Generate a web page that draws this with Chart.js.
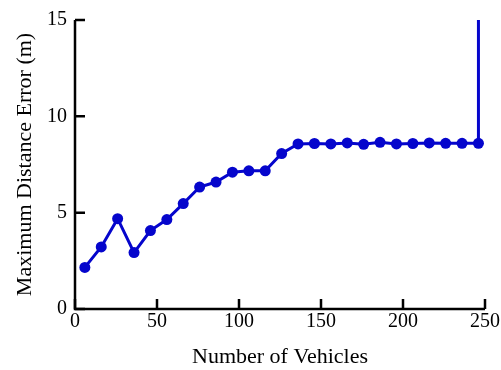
<!DOCTYPE html>
<html>
<head>
<meta charset="utf-8">
<script src="https://cdn.jsdelivr.net/npm/chart.js@4/dist/chart.umd.min.js"></script>
<style>
  html, body { margin: 0; padding: 0; background: #fff; }
  #wrap { width: 501px; height: 370px; }
</style>
</head>
<body>
<div id="wrap"><canvas id="c" width="501" height="370"></canvas></div>
<script>
// Number of vehicles in each run
const vehicles = [6, 16, 26, 36, 46, 56, 66, 76, 86, 96, 106, 116, 126,
                  136, 146, 156, 166, 176, 186, 196, 206, 216, 226, 236, 246, 246];
// Maximum distance error (m) per run; the last entry is the escape past the top of the axis
const maxError = [2.16, 3.22, 4.69, 2.93, 4.07, 4.64, 5.47, 6.33, 6.59, 7.10, 7.17, 7.17, 8.07,
                  8.57, 8.59, 8.57, 8.62, 8.55, 8.65, 8.57, 8.59, 8.62, 8.60, 8.60, 8.60, 15];
const xTicks = [0, 50, 100, 150, 200, 250];
const yTicks = [0, 5, 10, 15];

const FONT = "'Liberation Serif', 'Times New Roman', serif";

// Inward-pointing tick marks plus the left and bottom axis lines
const inwardTicks = {
  id: 'inwardTicks',
  afterDatasetsDraw(chart) {
    const { ctx, chartArea: a, scales: { x, y } } = chart;
    ctx.save();
    ctx.strokeStyle = '#000';
    ctx.lineWidth = 2.5;
    ctx.beginPath();
    xTicks.forEach(v => {
      const px = x.getPixelForValue(v);
      ctx.moveTo(px, a.bottom);
      ctx.lineTo(px, a.bottom - 10);
    });
    yTicks.forEach(v => {
      const py = y.getPixelForValue(v);
      ctx.moveTo(a.left, py);
      ctx.lineTo(a.left + 10, py);
    });
    ctx.stroke();
    ctx.beginPath();
    ctx.moveTo(a.left, a.top);
    ctx.lineTo(a.left, a.bottom);
    ctx.lineTo(a.right, a.bottom);
    ctx.stroke();
    ctx.restore();
  }
};

new Chart(document.getElementById('c'), {
  type: 'line',
  data: {
    datasets: [{
      data: vehicles.map((v, i) => ({ x: v, y: maxError[i] })),
      borderColor: '#0505cc',
      backgroundColor: '#0505cc',
      borderWidth: 3,
      pointRadius: maxError.map((_, i) => i === maxError.length - 1 ? 0 : 5.5),
      pointBorderWidth: 0,
      tension: 0,
      clip: 2
    }]
  },
  options: {
    responsive: false,
    animation: false,
    layout: { padding: { top: 19, right: 15, left: 0, bottom: 0 } },
    plugins: { legend: { display: false }, tooltip: { enabled: false } },
    scales: {
      x: {
        type: 'linear',
        min: 0, max: 250,
        afterBuildTicks: s => { s.ticks = xTicks.map(v => ({ value: v })); },
        afterFit: s => { s.height = 61; },
        grid: { display: false, drawTicks: false },
        border: { display: false },
        ticks: { color: '#000', font: { family: FONT, size: 20 }, padding: 1, maxRotation: 0 },
        title: { display: true, text: 'Number of Vehicles', color: '#000',
                 font: { family: FONT, size: 22 }, padding: { top: 0, bottom: 0 } }
      },
      y: {
        type: 'linear',
        min: 0, max: 15,
        afterBuildTicks: s => { s.ticks = yTicks.map(v => ({ value: v })); },
        afterFit: s => { s.width = 75; },
        grid: { display: false, drawTicks: false },
        border: { display: false },
        ticks: { color: '#000', font: { family: FONT, size: 20 }, padding: 8 },
        title: { display: true, text: 'Maximum Distance Error (m)', color: '#000',
                 font: { family: FONT, size: 22 }, padding: { top: 12, bottom: 0 } }
      }
    }
  },
  plugins: [inwardTicks]
});
</script>
</body>
</html>
